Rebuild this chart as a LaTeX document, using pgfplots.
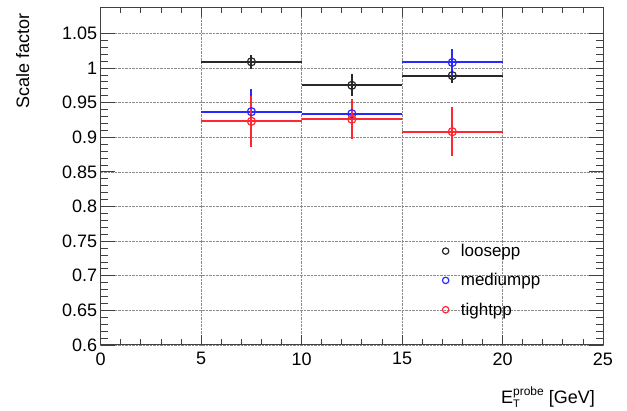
\documentclass[border=0pt]{standalone}
\usepackage{fontspec}
\setmainfont{Liberation Sans}
\usepackage{pgfplots}
\pgfplotsset{compat=1.18}
\definecolor{cblk}{RGB}{40,40,40}
\definecolor{cblu}{RGB}{40,40,255}
\definecolor{cred}{RGB}{255,40,50}
\begin{document}
\begin{tikzpicture}
\useasboundingbox (0,0) rectangle (627pt,410pt);
\begin{axis}[
  at={(100.7pt,65pt)}, anchor=south west,
  scale only axis, width=502.3pt, height=337.7pt,
  xmin=0, xmax=25, ymin=0.6, ymax=1.0877,
  xtick={0,5,...,25}, ytick={0.6,0.65,...,1.06},
  minor x tick num=4, minor y tick num=4,
  tick align=inside,
  xtick pos=both, ytick pos=both,
  xtick style={/pgfplots/major tick length=10pt,/pgfplots/minor tick length=6pt},
  ytick style={/pgfplots/major tick length=14pt,/pgfplots/minor tick length=7pt},
  tick style={line width=0.8pt, black!75},
  axis line style={line width=1pt, black!75},
  grid=major, grid style={densely dotted, line width=0.7pt, black!45},
  /pgf/number format/assume math mode=true,
  /pgf/number format/fixed, /pgf/number format/precision=2,
  tick label style={font=\fontsize{18}{20}\selectfont},
  xticklabel style={yshift=-4pt},
  legend style={draw=none, fill=none, at={(rel axis cs:0.674,0.311)}, anchor=north west,
    font=\fontsize{17}{20}\selectfont, row sep=11.5pt,
    /tikz/every odd column/.append style={column sep=10pt}},
  legend image code/.code={\draw[mark repeat=2,mark phase=2] plot coordinates {(0cm,0cm)(0.2cm,0cm)(0.4cm,0cm)};},
  legend image post style={mark size=3.2pt},
  legend cell align=left,
  every axis plot/.append style={only marks, line width=2pt,
    mark=o, mark size=4pt, mark options={fill=white, line width=1.2pt},
    error bars/x dir=both, error bars/x explicit, error bars/y dir=both, error bars/y explicit,
    error bars/error mark=none},
]
\addplot[cblk, error bars/error bar style={line width=2pt, cblk}] coordinates {
  (7.5,1.009) +- (2.5,0.010)
  (12.5,0.975) +- (2.5,0.016)
  (17.5,0.989) +- (2.5,0.010)
};
\addlegendentry{loosepp}
\addplot[cblu, error bars/error bar style={line width=2pt, cblu}] coordinates {
  (7.5,0.937) +- (2.5,0.033)
  (12.5,0.934) +- (2.5,0.020)
  (17.5,1.008) +- (2.5,0.020)
};
\addlegendentry{mediumpp}
\addplot[cred, error bars/error bar style={line width=2pt, cred}] coordinates {
  (7.5,0.923) +- (2.5,0.037)
  (12.5,0.926) +- (2.5,0.029)
  (17.5,0.908) +- (2.5,0.035)
};
\addlegendentry{tightpp}
\end{axis}
\node[rotate=90, anchor=east, font=\fontsize{18}{20}\selectfont, inner sep=0pt]
  at ([shift={(-78pt,-6pt)}]current axis.north west) {Scale factor};
\node[anchor=base east, font=\fontsize{18}{20}\selectfont, inner sep=0pt]
  at ([shift={(-8pt,-58pt)}]current axis.south east)
  {E\rlap{\raisebox{-0.45ex}{\fontsize{11}{12}\selectfont T}}\raisebox{0.75ex}{\fontsize{12}{13}\selectfont probe} [GeV]};
\end{tikzpicture}
\end{document}
